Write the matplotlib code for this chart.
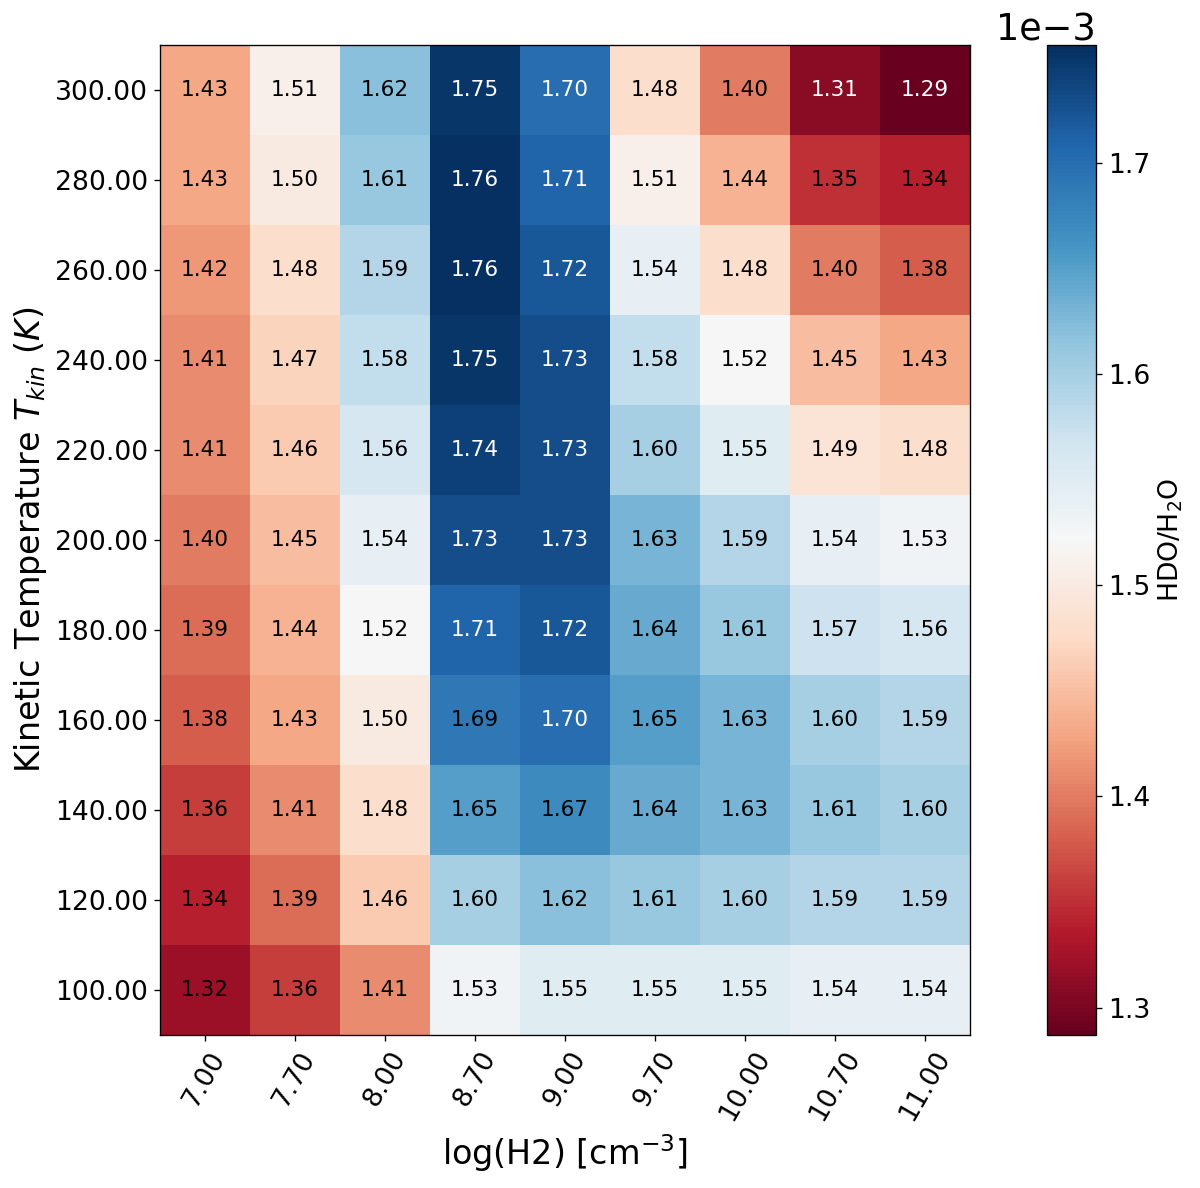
import numpy as np
import matplotlib.pyplot as plt

density = ['7.00', '7.70', '8.00', '8.70', '9.00', '9.70', '10.00', '10.70', '11.00']
temps = ['300.00', '280.00', '260.00', '240.00', '220.00', '200.00',
         '180.00', '160.00', '140.00', '120.00', '100.00']

# HDO/H2O ratio (x1e-3), rows from 300 K down to 100 K
r300 = [1.43, 1.51, 1.62, 1.75, 1.70, 1.48, 1.40, 1.31, 1.29]
r280 = [1.43, 1.50, 1.61, 1.76, 1.71, 1.51, 1.44, 1.35, 1.34]
r260 = [1.42, 1.48, 1.59, 1.76, 1.72, 1.54, 1.48, 1.40, 1.38]
r240 = [1.41, 1.47, 1.58, 1.75, 1.73, 1.58, 1.52, 1.45, 1.43]
r220 = [1.41, 1.46, 1.56, 1.74, 1.73, 1.60, 1.55, 1.49, 1.48]
r200 = [1.40, 1.45, 1.54, 1.73, 1.73, 1.63, 1.59, 1.54, 1.53]
r180 = [1.39, 1.44, 1.52, 1.71, 1.72, 1.64, 1.61, 1.57, 1.56]
r160 = [1.38, 1.43, 1.50, 1.69, 1.70, 1.65, 1.63, 1.60, 1.59]
r140 = [1.36, 1.41, 1.48, 1.65, 1.67, 1.64, 1.63, 1.61, 1.60]
r120 = [1.34, 1.39, 1.46, 1.60, 1.62, 1.61, 1.60, 1.59, 1.59]
r100 = [1.32, 1.36, 1.41, 1.53, 1.55, 1.55, 1.55, 1.54, 1.54]

ratio = np.array([r300, r280, r260, r240, r220, r200,
                  r180, r160, r140, r120, r100]) * 1e-3

fig = plt.figure(figsize=(10, 9.9), dpi=120)
ax = fig.add_axes([0.1333, 0.1288, 0.675, 0.8333])
cax = fig.add_axes([0.8725, 0.1288, 0.0408, 0.8333])

im = ax.imshow(ratio, cmap='RdBu', vmin=1.287e-3, vmax=1.756e-3, aspect='auto')

for i in range(ratio.shape[0]):
    for j in range(ratio.shape[1]):
        v = ratio[i, j] * 1e3
        col = 'white' if (v >= 1.695 or v <= 1.315) else 'black'
        ax.text(j, i, '%.2f' % v, ha='center', va='center', color=col, fontsize=13)

ax.set_xticks(np.arange(len(density)))
ax.set_xticklabels(density, rotation=60, fontsize=16)
ax.set_yticks(np.arange(len(temps)))
ax.set_yticklabels(temps, fontsize=16)
ax.set_xlabel('log(H2) [cm$^{-3}$]', fontsize=20)
ax.set_ylabel('Kinetic Temperature $T_{kin}$ $(K)$', fontsize=20)

cb = fig.colorbar(im, cax=cax)
cb.ax.tick_params(labelsize=16)
cb.formatter.set_powerlimits((0, 0))
cb.formatter.set_useMathText(False)
cb.update_ticks()
cb.ax.yaxis.get_offset_text().set_fontsize(22)
cb.set_label('HDO/H$_2$O', fontsize=16)

plt.savefig('out.png', dpi=120)
